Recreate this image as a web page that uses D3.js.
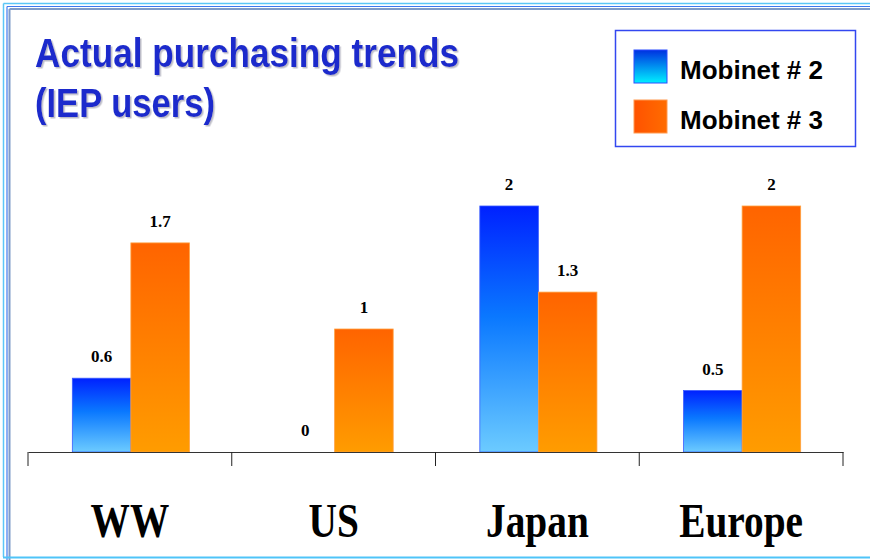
<!DOCTYPE html>
<html>
<head>
<meta charset="utf-8">
<script src="https://cdn.jsdelivr.net/npm/d3@7"></script>
<style>
  html, body { margin: 0; padding: 0; background: #fff; }
  svg { display: block; }
</style>
</head>
<body>
<svg id="chart" width="870" height="560"></svg>
<script>
// Purchasing trends per region, two survey waves
const categories = ["WW", "US", "Japan", "Europe"];
const seriesNames = ["Mobinet # 2", "Mobinet # 3"];
const mobinet2 = [0.6, 0, 2, 0.5];
const mobinet3 = [1.7, 1, 1.3, 2];
const titleLines = ["Actual purchasing trends", "(IEP users)"];

const svg = d3.select("#chart");
const W = 870, H = 560;

// ---- gradients ----
const defs = svg.append("defs");
const gBlue = defs.append("linearGradient").attr("id", "gBlue")
  .attr("x1", 0).attr("y1", 0).attr("x2", 0).attr("y2", 1);
gBlue.append("stop").attr("offset", "0%").attr("stop-color", "#0021ff");
gBlue.append("stop").attr("offset", "45%").attr("stop-color", "#0a78ff");
gBlue.append("stop").attr("offset", "100%").attr("stop-color", "#6ccbff");

const gOrange = defs.append("linearGradient").attr("id", "gOrange")
  .attr("x1", 0).attr("y1", 0).attr("x2", 0).attr("y2", 1);
gOrange.append("stop").attr("offset", "0%").attr("stop-color", "#ff6400");
gOrange.append("stop").attr("offset", "100%").attr("stop-color", "#ff9c00");

const gBlueKey = defs.append("linearGradient").attr("id", "gBlueKey")
  .attr("x1", 0).attr("y1", 0).attr("x2", 0).attr("y2", 1);
gBlueKey.append("stop").attr("offset", "0%").attr("stop-color", "#0030e0");
gBlueKey.append("stop").attr("offset", "100%").attr("stop-color", "#00f0ff");

const gOrangeKey = defs.append("linearGradient").attr("id", "gOrangeKey")
  .attr("x1", 0).attr("y1", 0).attr("x2", 1).attr("y2", 0);
gOrangeKey.append("stop").attr("offset", "0%").attr("stop-color", "#ff5200");
gOrangeKey.append("stop").attr("offset", "100%").attr("stop-color", "#ff6c00");

const shadow = defs.append("filter").attr("id", "shadow")
  .attr("x", "-5%").attr("y", "-5%").attr("width", "110%").attr("height", "120%");
shadow.append("feDropShadow").attr("dx", 1.5).attr("dy", 1.5).attr("stdDeviation", 0.5)
  .attr("flood-color", "#a0a0b0").attr("flood-opacity", 0.7);

// ---- slide frame ----
const frame = svg.append("g");
frame.append("line").attr("x1", 3.5).attr("y1", 3.5).attr("x2", W).attr("y2", 3.5)
  .attr("stroke", "#5cc6f6").attr("stroke-width", 1.5);
frame.append("line").attr("x1", 3.5).attr("y1", 3.5).attr("x2", 3.5).attr("y2", 557)
  .attr("stroke", "#5cc6f6").attr("stroke-width", 1.5);
frame.append("line").attr("x1", 7).attr("y1", 6.5).attr("x2", W).attr("y2", 6.5)
  .attr("stroke", "#3f78ee").attr("stroke-width", 1.2);
frame.append("line").attr("x1", 7).attr("y1", 6.5).attr("x2", 7).attr("y2", H)
  .attr("stroke", "#3f78ee").attr("stroke-width", 1.2);
frame.append("line").attr("x1", 9.5).attr("y1", 9).attr("x2", W).attr("y2", 9)
  .attr("stroke", "#7f9bc8").attr("stroke-width", 2);
frame.append("line").attr("x1", 9.5).attr("y1", 9).attr("x2", 9.5).attr("y2", H)
  .attr("stroke", "#7f9bc8").attr("stroke-width", 2);
frame.append("line").attr("x1", 3).attr("y1", 557.5).attr("x2", W).attr("y2", 557.5)
  .attr("stroke", "#4fc4f8").attr("stroke-width", 2);

// ---- title ----
const title = svg.append("g").attr("filter", "url(#shadow)");
title.selectAll("text").data(titleLines).join("text")
  .attr("x", 35)
  .attr("y", (d, i) => 67 + i * 50)
  .attr("font-family", "Liberation Sans, Arial, sans-serif")
  .attr("font-weight", "bold")
  .attr("font-size", 40)
  .attr("fill", "#1a2ccc")
  .attr("textLength", (d, i) => i === 0 ? 424 : 180)
  .attr("lengthAdjust", "spacingAndGlyphs")
  .text(d => d);

// ---- scales ----
const x = d3.scaleBand().domain(categories).range([28, 843]).paddingInner(0).paddingOuter(0);
const xs = d3.scaleBand().domain(seriesNames).range([0, x.bandwidth()]).paddingInner(0).paddingOuter(0.74);
const y = d3.scaleLinear().domain([0, 2]).range([452, 206]);

const rows = categories.map((c, i) => ({
  cat: c,
  vals: [
    { s: seriesNames[0], v: mobinet2[i], fill: "url(#gBlue)", stroke: "#3a5cff" },
    { s: seriesNames[1], v: mobinet3[i], fill: "url(#gOrange)", stroke: "#ffa040" }
  ]
}));

const groups = svg.append("g").selectAll("g").data(rows).join("g")
  .attr("transform", d => `translate(${x(d.cat) + 1},0)`);

groups.selectAll("rect").data(d => d.vals.filter(v => v.v > 0)).join("rect")
  .attr("x", d => xs(d.s))
  .attr("y", d => y(d.v))
  .attr("width", xs.bandwidth())
  .attr("height", d => y(0) - y(d.v))
  .attr("fill", d => d.fill)
  .attr("stroke", d => d.stroke)
  .attr("stroke-width", 0.8);

groups.selectAll("text").data(d => d.vals).join("text")
  .attr("x", d => xs(d.s) + xs.bandwidth() / 2)
  .attr("y", d => y(d.v) - 16)
  .attr("text-anchor", "middle")
  .attr("font-family", "Liberation Serif, Times New Roman, serif")
  .attr("font-weight", "bold")
  .attr("font-size", 17)
  .attr("fill", "#000")
  .text(d => d.v);

// ---- category axis ----
const axis = svg.append("g").attr("transform", `translate(0,${y(0)})`)
  .call(d3.axisBottom(x).tickSize(0).tickFormat(""));
axis.select(".domain").attr("stroke", "#333").attr("stroke-width", 1.2);
axis.selectAll(".tick").remove();

const bounds = [...categories.map(c => x(c)), x.range()[1]];
axis.selectAll("line.sep").data(bounds).join("line")
  .attr("class", "sep")
  .attr("x1", d => d).attr("x2", d => d)
  .attr("y1", 0).attr("y2", 14)
  .attr("stroke", "#222").attr("stroke-width", 1);

svg.append("g").selectAll("text").data(categories).join("text")
  .attr("transform", d => `translate(${x(d) + x.bandwidth() / 2},537) scale(0.82,1)`)
  .attr("text-anchor", "middle")
  .attr("font-family", "Liberation Serif, Times New Roman, serif")
  .attr("font-weight", "bold")
  .attr("font-size", 48)
  .attr("fill", "#000")
  .text(d => d);

// ---- legend ----
const legend = svg.append("g");
legend.append("rect").attr("x", 615.5).attr("y", 30.5).attr("width", 240).attr("height", 116)
  .attr("fill", "#fff").attr("stroke", "#3347f0").attr("stroke-width", 1.5);
const keys = [
  { name: seriesNames[0], fill: "url(#gBlueKey)", stroke: "#2a4cff" },
  { name: seriesNames[1], fill: "url(#gOrangeKey)", stroke: "#ff9a50" }
];
const li = legend.selectAll("g").data(keys).join("g")
  .attr("transform", (d, i) => `translate(634,${50 + i * 50})`);
li.append("rect").attr("width", 33).attr("height", 33)
  .attr("fill", d => d.fill).attr("stroke", d => d.stroke).attr("stroke-width", 1);
li.append("text").attr("x", 46).attr("y", 29)
  .attr("font-family", "Liberation Sans, Arial, sans-serif")
  .attr("font-weight", "bold")
  .attr("font-size", 25)
  .attr("fill", "#000")
  .attr("textLength", 143)
  .attr("lengthAdjust", "spacingAndGlyphs")
  .text(d => d.name);
</script>
</body>
</html>
